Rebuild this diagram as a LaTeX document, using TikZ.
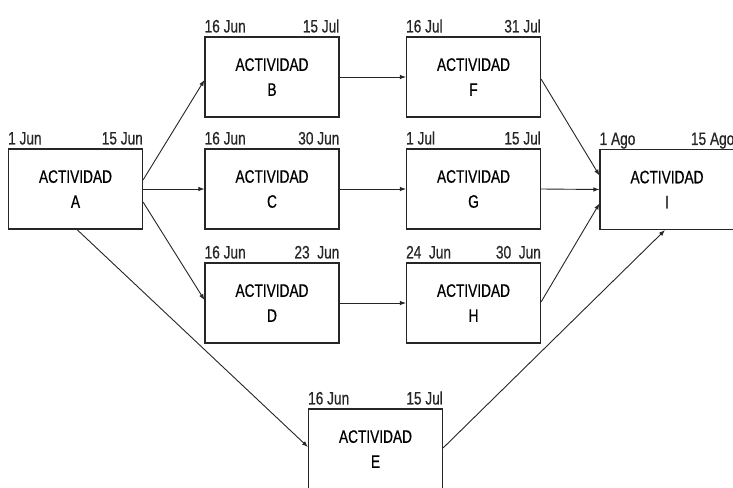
\documentclass[tikz,border=0pt]{standalone}
\usepackage{fontspec}
\setmainfont{Liberation Sans}[FakeStretch=0.76,FakeBold=0.6]
\usetikzlibrary{arrows.meta}
\begin{document}
\begin{tikzpicture}[x=1pt,y=-1pt,
  box/.style={draw=black!85,line width=1.1pt,minimum width=134pt,minimum height=80pt,inner sep=0pt,align=center,font=\fontsize{18}{25}\selectfont},
  date/.style={inner sep=0pt,font=\fontsize{18}{20}\selectfont,text=black!85},
  conn/.style={draw=black!85,line width=0.9pt,-{Latex[length=6pt,width=4.5pt]}}]
\useasboundingbox (0,0) rectangle (733,487);
\clip (0,0) rectangle (733,487);
\fill[white] (0,0) rectangle (733,487);
\node[box] (A) at (75.5,189) {ACTIVIDAD\\A};
\node[box] (B) at (272,77) {ACTIVIDAD\\B};
\node[box] (C) at (272,189) {ACTIVIDAD\\C};
\node[box] (D) at (272,303) {ACTIVIDAD\\D};
\node[box] (F) at (473.5,77) {ACTIVIDAD\\F};
\node[box] (G) at (473.5,189) {ACTIVIDAD\\G};
\node[box] (H) at (473.5,303) {ACTIVIDAD\\H};
\node[box] (I) at (667,189.5) {ACTIVIDAD\\I};
\node[box] (E) at (375.5,449) {ACTIVIDAD\\E};
% dates
\node[date,anchor=base west] (Ad1) at ([yshift=4pt]A.north west) {1 Jun};
\node[date,anchor=base east] (Ad2) at ([yshift=4pt]A.north east) {15 Jun};
\node[date,anchor=base west] (Bd1) at ([yshift=4pt]B.north west) {16 Jun};
\node[date,anchor=base east] (Bd2) at ([yshift=4pt]B.north east) {15 Jul};
\node[date,anchor=base west] (Cd1) at ([yshift=4pt]C.north west) {16 Jun};
\node[date,anchor=base east] (Cd2) at ([yshift=4pt]C.north east) {30 Jun};
\node[date,anchor=base west] (Dd1) at ([yshift=4pt]D.north west) {16 Jun};
\node[date,anchor=base east] (Dd2) at ([yshift=4pt]D.north east) {23\ \ Jun};
\node[date,anchor=base west] (Fd1) at ([yshift=4pt]F.north west) {16 Jul};
\node[date,anchor=base east] (Fd2) at ([yshift=4pt]F.north east) {31 Jul};
\node[date,anchor=base west] (Gd1) at ([yshift=4pt]G.north west) {1 Jul};
\node[date,anchor=base east] (Gd2) at ([yshift=4pt]G.north east) {15 Jul};
\node[date,anchor=base west] (Hd1) at ([yshift=4pt]H.north west) {24\ \ Jun};
\node[date,anchor=base east] (Hd2) at ([yshift=4pt]H.north east) {30\ \ Jun};
\node[date,anchor=base west] (Id1) at ([yshift=4pt]I.north west) {1 Ago};
\node[date,anchor=base east] (Id2) at ([yshift=4pt]I.north east) {15 Ago};
\node[date,anchor=base west] (Ed1) at ([yshift=4pt]E.north west) {16 Jun};
\node[date,anchor=base east] (Ed2) at ([yshift=4pt]E.north east) {15 Jul};
% connectors
\draw[conn] ([yshift=9pt]A.east) -- ([yshift=-3pt]B.west);
\draw[conn] (A.east) -- (C.west);
\draw[conn] ([yshift=-13pt]A.east) -- ([yshift=3pt]D.west);
\draw[conn] ([xshift=1.5pt]A.south) -- ([yshift=2pt]E.west);
\draw[conn] (B.east) -- (F.west);
\draw[conn] (C.east) -- (G.west);
\draw[conn] (D.east) -- (H.west);
\draw[conn] ([yshift=-2pt]F.east) -- ([yshift=14pt]I.west);
\draw[conn] (G.east) -- (I.west);
\draw[conn] ([yshift=1pt]H.east) -- ([yshift=-14pt]I.west);
\draw[conn] ([yshift=1pt]E.east) -- ([xshift=-2pt]I.south);
\end{tikzpicture}
\end{document}
